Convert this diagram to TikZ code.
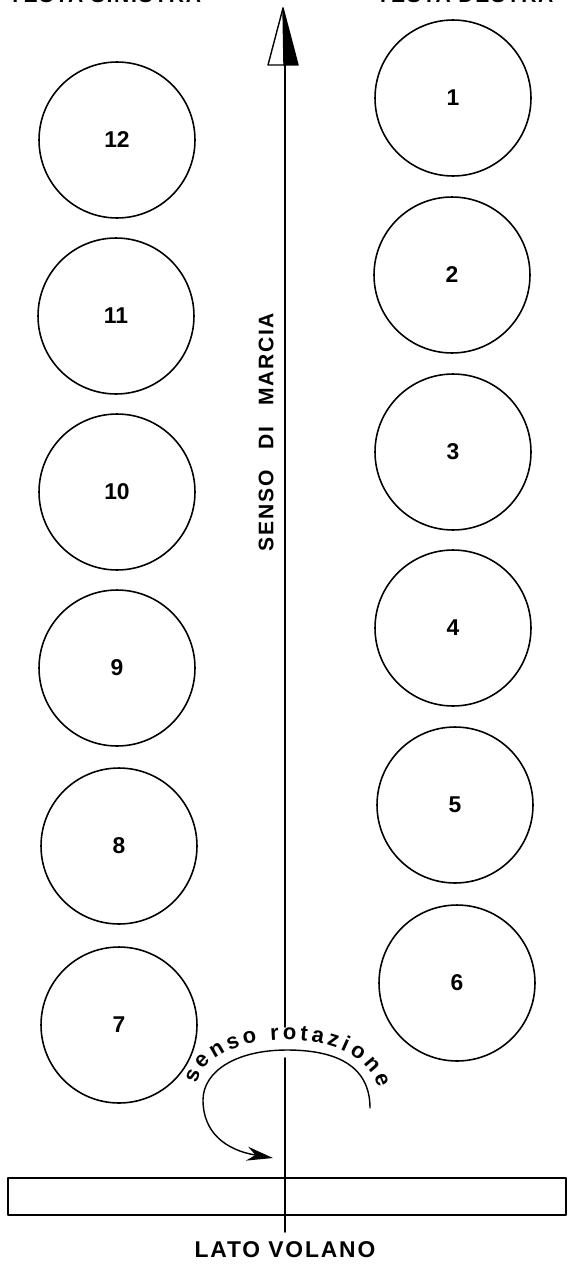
\documentclass[tikz,border=0pt]{standalone}
\usepackage{fontspec}
\setmainfont{Liberation Sans}
\newfontfamily\lblfont[LetterSpace=8]{Liberation Sans}
\usetikzlibrary{arrows.meta,decorations.text}
\begin{document}
\begin{tikzpicture}[x=0.02cm, y=-0.02cm, line join=round, line cap=round, >=Stealth,
	cyl/.style={draw, circle, line width=0.9pt, minimum size=3.12cm, inner sep=0pt, font=\bfseries\fontsize{13}{13}\selectfont},
	lbl/.style={font=\lblfont\bfseries\fontsize{12}{12}\selectfont}]
	\useasboundingbox (0,0) rectangle (568,1264);
	\def\ax{285} % asse motore
	% cilindri testa destra e sinistra
	\foreach \n/\x/\y in {1/453/98, 2/452/275, 3/453/452, 4/453/628, 5/455/805, 6/457/983,
		12/117/140, 11/116/316, 10/117/492, 9/117/668, 8/119/846, 7/119/1025}
		\node[cyl] (c\n) at (\x,\y) {\n};
	% asse e freccia (interrotto sotto la scritta)
	\coordinate (top) at (\ax,62);
	\coordinate (gapT) at (\ax,1027);
	\coordinate (gapB) at (\ax,1058);
	\coordinate (bot) at (\ax,1232);
	\coordinate (tip) at (283,8);
	\draw[line width=1pt] (gapT) -- (top) (bot) -- (gapB);
	\draw[line width=0.8pt] (tip) -- (268,65) -- (284,65);
	\filldraw[line width=0.8pt] (tip) -- (284,65) -- (298,65) -- cycle;
	\node[lbl, rotate=90] (marcia) at (266,432) {SENSO\quad DI\quad MARCIA};
	% volano
	\draw[line width=1pt] (8,1178) rectangle (566,1215);
	\node[lbl, font=\lblfont\bfseries\fontsize{13}{13}\selectfont] (lato) at (\ax,1250) {LATO VOLANO};
	% teste (tagliate in alto)
	\node[lbl, anchor=base] (sx) at (105,3) {TESTA SINISTRA};
	\node[lbl, anchor=base] (dx) at (465,3) {TESTA DESTRA};
	% senso rotazione
	\draw[line width=0.8pt, -{Stealth[length=15pt,width=8pt]}] (370,1108) .. controls (370,1065) and (335,1050) .. (287,1050)
		.. controls (235,1050) and (203,1072) .. (203,1100) .. controls (203,1132) and (225,1150) .. (273,1158);
	\path[decorate, decoration={text along path, text align=fit to path,
		text={|\bfseries\fontsize{12.5}{12.5}\selectfont|senso rotazione}}]
		(197,1084) .. controls (202,1056) and (240,1040) .. (287,1040) .. controls (335,1040) and (370,1058) .. (378,1088);
\end{tikzpicture}
\end{document}
